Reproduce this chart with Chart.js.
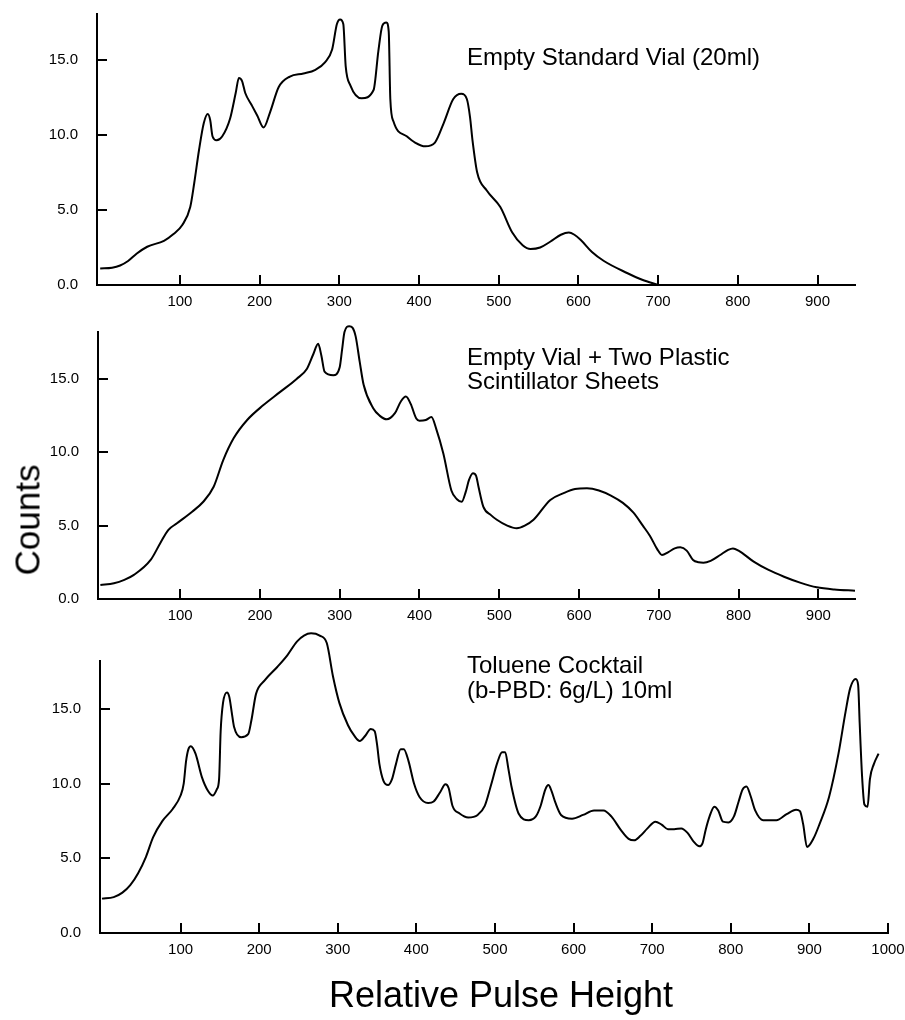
<!DOCTYPE html>
<html>
<head>
<meta charset="utf-8">
<script src="https://cdn.jsdelivr.net/npm/chart.js@4/dist/chart.umd.min.js"></script>
<style>
  html, body { margin: 0; padding: 0; background: #fff; }
  #page { position: relative; width: 905px; height: 1020px; overflow: hidden; font-family: "Liberation Sans", Arial, Helvetica, sans-serif; color: #000; }
  #page canvas { position: absolute; left: 0; top: 0; }
  .lbl { position: absolute; white-space: nowrap; }
  .note { font-size: 24px; line-height: 24px; left: 467px; }
</style>
</head>
<body>
<div id="page">
  <canvas id="panel1" width="905" height="1020"></canvas>
  <canvas id="panel2" width="905" height="1020"></canvas>
  <canvas id="panel3" width="905" height="1020"></canvas>
  <div class="lbl note" style="top:45px;">Empty Standard Vial (20ml)</div>
  <div class="lbl note" style="top:345px; line-height:23.5px;">Empty Vial + Two Plastic<br>Scintillator Sheets</div>
  <div class="lbl note" style="top:652px; line-height:25px;">Toluene Cocktail<br>(b-PBD: 6g/L) 10ml</div>
  <div class="lbl" style="font-size:35px; line-height:35px; left:27px; top:520px; transform: translate(-50%, -50%) rotate(-90deg);">Counts</div>
  <div class="lbl" style="font-size:36px; line-height:36px; left:501px; top:977px; transform: translateX(-50%);">Relative Pulse Height</div>
</div>
<script>
// tick values
const yTicks = [0, 5, 10, 15];
const xTicksShort = [100, 200, 300, 400, 500, 600, 700, 800, 900];
const xTicksLong = [100, 200, 300, 400, 500, 600, 700, 800, 900, 1000];

// Empty Standard Vial (20ml)
const pulse1 = [0, 15, 25, 35, 46, 59, 80, 92, 103, 113, 118, 124, 130, 135, 138, 141, 146, 153, 163, 170, 174, 178, 182, 190, 197, 205, 213, 224, 238, 255, 270, 282, 291, 297, 301, 305, 308, 314, 328, 343, 349, 354, 359, 362, 364, 368, 385, 395, 408, 420, 431, 443, 453, 460, 464, 467, 473, 485, 502, 517, 530, 540, 552, 565, 578, 588, 595, 603, 617, 632, 661, 680, 700];
const counts1 = [1.1, 1.15, 1.3, 1.6, 2.1, 2.55, 2.95, 3.4, 4.0, 5.2, 6.8, 9.0, 10.8, 11.4, 11.0, 9.9, 9.65, 9.9, 11.1, 12.8, 13.8, 13.6, 12.8, 12.0, 11.3, 10.5, 11.5, 13.2, 13.9, 14.1, 14.35, 14.85, 15.7, 17.4, 17.7, 17.4, 14.6, 13.3, 12.45, 13.0, 15.6, 17.3, 17.5, 16.9, 12.4, 10.9, 9.9, 9.5, 9.25, 9.5, 10.8, 12.4, 12.75, 12.4, 11.2, 9.7, 7.5, 6.3, 5.2, 3.5, 2.65, 2.4, 2.5, 2.9, 3.35, 3.5, 3.35, 3.0, 2.2, 1.6, 0.8, 0.35, 0];

// Empty Vial + Two Plastic Scintillator Sheets
const pulse2 = [0, 17, 30, 42, 63, 75, 85, 96, 115, 129, 142, 154, 167, 184, 204, 225, 246, 259, 267, 273, 277, 281, 292, 300, 303, 306, 312, 316, 320, 325, 330, 342, 350, 359, 369, 377, 383, 389, 396, 400, 408, 415, 421, 430, 440, 447, 453, 458, 462, 467, 471, 474, 480, 490, 497, 510, 522, 532, 543, 564, 580, 595, 610, 625, 640, 655, 668, 680, 689, 698, 704, 712, 720, 727, 735, 743, 750, 756, 765, 777, 787, 793, 800, 819, 837, 857, 878, 898, 920, 946];
const counts2 = [0.95, 1.07, 1.3, 1.64, 2.66, 3.8, 4.7, 5.16, 5.95, 6.63, 7.65, 9.47, 10.95, 12.2, 13.2, 14.1, 15.0, 15.7, 16.7, 17.4, 16.6, 15.5, 15.25, 15.8, 17.0, 18.2, 18.6, 18.5, 17.9, 16.2, 14.6, 13.0, 12.5, 12.25, 12.65, 13.5, 13.8, 13.3, 12.3, 12.15, 12.2, 12.4, 11.6, 9.9, 7.4, 6.8, 6.63, 7.3, 8.1, 8.57, 8.4, 7.65, 6.3, 5.7, 5.4, 5.0, 4.82, 5.0, 5.4, 6.75, 7.2, 7.5, 7.55, 7.4, 7.05, 6.55, 5.9, 5.0, 4.3, 3.4, 3.0, 3.2, 3.45, 3.52, 3.3, 2.66, 2.5, 2.47, 2.6, 3.0, 3.35, 3.45, 3.3, 2.55, 2.0, 1.52, 1.1, 0.8, 0.65, 0.57];

// Toluene Cocktail (b-PBD: 6g/L) 10ml
const pulse3 = [0, 15, 26, 36, 46, 56, 65, 77, 90, 100, 104, 107, 110, 113, 119, 127, 135, 141, 146, 149, 151, 154, 159, 162, 165, 168, 177, 186, 190, 196, 207, 223, 236, 248, 257, 266, 277, 286, 294, 302, 313, 321, 328, 335, 342, 347, 350, 353, 358, 364, 369, 374, 380, 384, 390, 397, 404, 415, 422, 430, 437, 441, 446, 455, 466, 478, 487, 495, 503, 509, 513, 517, 521, 530, 543, 552, 558, 564, 568, 572, 577, 584, 598, 612, 626, 638, 648, 660, 670, 677, 685, 694, 704, 712, 720, 728, 737, 745, 753, 760, 764, 768, 773, 779, 784, 790, 797, 804, 810, 815, 820, 825, 831, 841, 858, 871, 883, 888, 892, 897, 905, 913, 925, 937, 946, 952, 959, 962, 964, 967, 970, 974, 977, 982, 988];
const counts3 = [2.3, 2.4, 2.7, 3.2, 4.0, 5.1, 6.4, 7.5, 8.3, 9.2, 10.0, 11.5, 12.3, 12.5, 12.0, 10.45, 9.5, 9.2, 9.6, 10.3, 13.5, 15.4, 16.1, 15.8, 14.8, 13.8, 13.1, 13.3, 14.2, 16.0, 16.9, 17.8, 18.6, 19.5, 19.9, 20.05, 19.9, 19.4, 17.15, 15.4, 13.9, 13.2, 12.84, 13.2, 13.65, 13.5, 12.6, 11.3, 10.2, 9.9, 10.3, 11.3, 12.3, 12.3, 11.5, 10.0, 9.1, 8.7, 8.8, 9.4, 9.95, 9.7, 8.5, 8.0, 7.73, 7.9, 8.5, 9.9, 11.4, 12.1, 12.1, 11.0, 9.8, 8.0, 7.55, 7.8, 8.5, 9.6, 9.9, 9.5, 8.7, 7.9, 7.65, 7.9, 8.2, 8.2, 7.8, 6.9, 6.3, 6.2, 6.5, 7.0, 7.45, 7.25, 6.95, 6.95, 7.0, 6.7, 6.1, 5.8, 6.0, 6.9, 7.8, 8.45, 8.2, 7.45, 7.4, 7.8, 8.8, 9.6, 9.8, 9.2, 8.2, 7.55, 7.55, 7.95, 8.25, 8.15, 7.3, 5.75, 6.3, 7.3, 9.1, 12.0, 14.8, 16.4, 17.0, 16.6, 14.0, 10.5, 8.6, 8.45, 10.3, 11.3, 12.0];

Chart.defaults.font.family = '"Liberation Sans", Arial, Helvetica, sans-serif';
Chart.defaults.color = "#000";

// short tick marks pointing into the plot, like the original
const innerTicks = {
  id: "innerTicks",
  afterDraw(chart) {
    const { ctx, chartArea: a, scales: { x, y } } = chart;
    ctx.save();
    ctx.strokeStyle = "#000";
    ctx.lineWidth = 2;
    ctx.beginPath();
    x.ticks.forEach((t) => {
      const px = Math.round(x.getPixelForValue(t.value));
      ctx.moveTo(px, a.bottom);
      ctx.lineTo(px, a.bottom - 10);
    });
    y.ticks.forEach((t) => {
      if (t.value === 0) return;
      const py = Math.round(y.getPixelForValue(t.value));
      ctx.moveTo(a.left, py);
      ctx.lineTo(a.left + 10, py);
    });
    ctx.stroke();
    ctx.restore();
  },
};

function panel(id, pulse, counts, box, xMin, xMax, yMax, xTicks) {
  new Chart(document.getElementById(id), {
    type: "line",
    data: {
      datasets: [{
        data: pulse.map((p, i) => ({ x: p, y: counts[i] })),
        borderColor: "#000",
        borderWidth: 2,
        pointRadius: 0,
        cubicInterpolationMode: "monotone",
        fill: false,
        clip: false,
      }],
    },
    options: {
      responsive: false,
      animation: false,
      events: [],
      layout: { padding: { top: box.top, right: 905 - box.right, left: 0, bottom: 1020 - box.bottom - 40 } },
      plugins: { legend: { display: false }, tooltip: { enabled: false } },
      scales: {
        x: {
          type: "linear",
          min: xMin,
          max: xMax,
          afterBuildTicks: (s) => { s.ticks = xTicks.map((v) => ({ value: v })); },
          afterFit: (s) => { s.height = 40; s.paddingLeft = 0; s.paddingRight = 0; },
          grid: { display: false, drawTicks: false },
          border: { display: true, color: "#000", width: 2 },
          ticks: { font: { size: 15 }, padding: 8, maxRotation: 0, autoSkip: false, callback: (v) => String(v) },
        },
        y: {
          min: 0,
          max: yMax,
          afterBuildTicks: (s) => { s.ticks = yTicks.map((v) => ({ value: v })); },
          afterFit: (s) => { s.width = box.left; s.paddingTop = 0; s.paddingBottom = 0; },
          grid: { display: false, drawTicks: false },
          border: { display: true, color: "#000", width: 2 },
          ticks: { font: { size: 15 }, padding: 19, callback: (v) => v.toFixed(1) },
        },
      },
    },
    plugins: [innerTicks],
  });
}

panel("panel1", pulse1, counts1, { left: 97, right: 855, top: 14, bottom: 285 }, -4, 947, 18.07, xTicksShort);
panel("panel2", pulse2, counts2, { left: 98, right: 855, top: 332, bottom: 599 }, -3, 946, 18.2, xTicksShort);
panel("panel3", pulse3, counts3, { left: 100, right: 888, top: 661, bottom: 933 }, -2.5, 1000, 18.2, xTicksLong);
</script>
</body>
</html>
